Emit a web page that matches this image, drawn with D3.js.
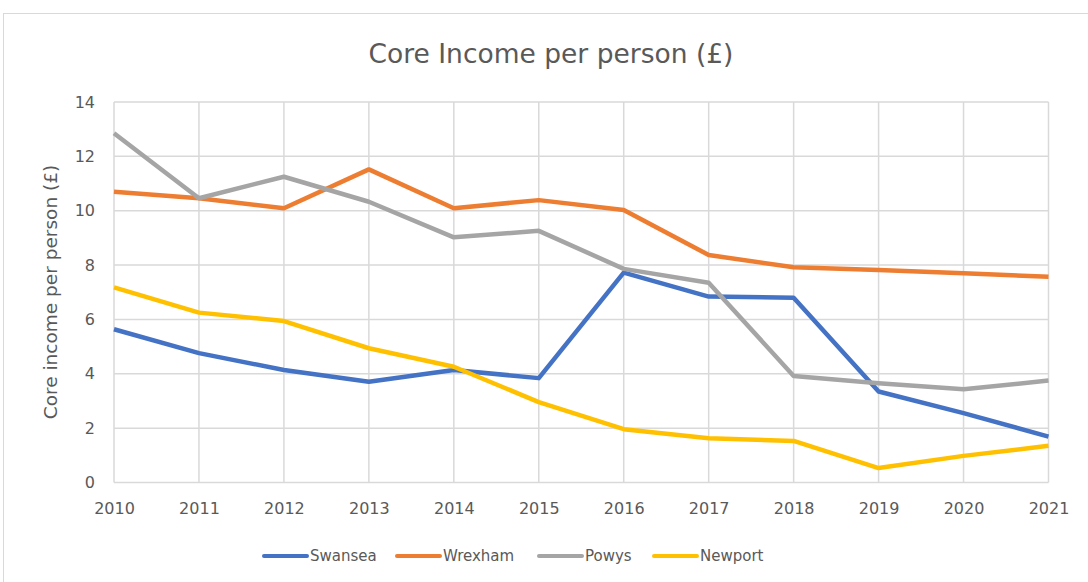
<!DOCTYPE html>
<html>
<head>
<meta charset="utf-8">
<script src="https://cdn.jsdelivr.net/npm/d3@7"></script>
<style>
  body { margin: 0; background: #fff; }
  text { font-family: "DejaVu Sans", sans-serif; fill: #595959; }
</style>
</head>
<body>
<script>
// data
const years = [2010, 2011, 2012, 2013, 2014, 2015, 2016, 2017, 2018, 2019, 2020, 2021];
const swansea = [5.64, 4.76, 4.14, 3.71, 4.14, 3.84, 7.72, 6.84, 6.80, 3.35, 2.55, 1.69];
const wrexham = [10.70, 10.46, 10.09, 11.52, 10.09, 10.39, 10.03, 8.37, 7.92, 7.82, 7.70, 7.57];
const powys = [12.85, 10.46, 11.25, 10.33, 9.02, 9.26, 7.86, 7.35, 3.92, 3.65, 3.43, 3.75];
const newport = [7.18, 6.25, 5.94, 4.94, 4.26, 2.96, 1.96, 1.63, 1.53, 0.53, 0.98, 1.35];
const yTicks = [0, 2, 4, 6, 8, 10, 12, 14];

const series = [
  { name: "Swansea", values: swansea, color: "#4472C4" },
  { name: "Wrexham", values: wrexham, color: "#ED7D31" },
  { name: "Powys", values: powys, color: "#A5A5A5" },
  { name: "Newport", values: newport, color: "#FFC000" }
];

const width = 1088, height = 582;

const svg = d3.select("body").append("svg")
  .attr("width", width)
  .attr("height", height);

// chart frame
svg.append("rect")
  .attr("x", 3.5).attr("y", 13.5)
  .attr("width", width).attr("height", height)
  .attr("fill", "none")
  .attr("stroke", "#d9d9d9");

const x = d3.scaleLinear().domain([2010, 2021]).range([114, 1048.5]);
const y = d3.scaleLinear().domain([0, 14]).range([482.5, 102]);

// gridlines
const grid = svg.append("g");
grid.selectAll(".hg").data(yTicks).enter().append("line")
  .attr("x1", x(2010)).attr("x2", x(2021))
  .attr("y1", d => y(d)).attr("y2", d => y(d))
  .attr("stroke", "#d9d9d9").attr("stroke-width", 1.5);
grid.selectAll(".vg").data(years).enter().append("line")
  .attr("x1", d => x(d)).attr("x2", d => x(d))
  .attr("y1", y(0)).attr("y2", y(14))
  .attr("stroke", "#d9d9d9").attr("stroke-width", 1.5);

// axes
const yAxis = svg.append("g")
  .attr("transform", `translate(${x(2010)},0)`)
  .call(d3.axisLeft(y).tickValues(yTicks).tickSize(0).tickPadding(19));
yAxis.select(".domain").remove();
yAxis.selectAll("text").style("font-size", "16px").attr("fill", "#595959");

const xAxis = svg.append("g")
  .attr("transform", `translate(0,${y(0)})`)
  .call(d3.axisBottom(x).tickValues(years).tickFormat(d3.format("d")).tickSize(0).tickPadding(20));
xAxis.select(".domain").remove();
xAxis.selectAll("text").style("font-size", "16px").attr("fill", "#595959");

// lines
const line = d3.line()
  .x((d, i) => x(years[i]))
  .y(d => y(d));

svg.selectAll(".series").data(series).enter().append("path")
  .attr("d", d => line(d.values))
  .attr("fill", "none")
  .attr("stroke", d => d.color)
  .attr("stroke-width", 4.5)
  .attr("stroke-linejoin", "round");

// title
svg.append("text")
  .attr("x", 551).attr("y", 63)
  .attr("text-anchor", "middle")
  .style("font-size", "26.5px")
  .text("Core Income per person (£)");

// y label
svg.append("text")
  .attr("transform", `translate(57,292) rotate(-90)`)
  .attr("text-anchor", "middle")
  .style("font-size", "18.5px")
  .text("Core income per person (£)");

// legend
const legendX = [264, 397, 539, 654];
const legend = svg.selectAll(".leg").data(series).enter().append("g")
  .attr("transform", (d, i) => `translate(${legendX[i]},556)`);
legend.append("line")
  .attr("x1", 0).attr("x2", 43)
  .attr("stroke", d => d.color)
  .attr("stroke-width", 4)
  .attr("stroke-linecap", "round");
legend.append("text")
  .attr("x", 46).attr("dy", "0.35em")
  .style("font-size", "15px")
  .text(d => d.name);
</script>
</body>
</html>
